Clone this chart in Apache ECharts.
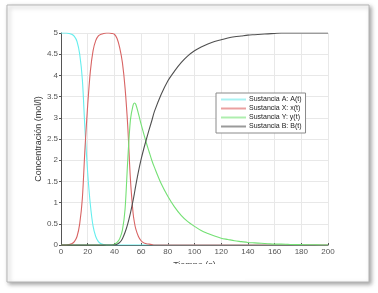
<!DOCTYPE html>
<html>
<head>
<meta charset="utf-8">
<style>html,body{margin:0;padding:0;background:#fff;}#c{width:378px;height:293px;}</style>
<script src="https://cdn.jsdelivr.net/npm/echarts@6/dist/echarts.min.js"></script>
</head>
<body>
<div id="c"></div>
<script>
var time = [0,2,4,6,8,10,12,14,16,18,20,22,24,26,28,30,32,34,36,38,40,42,44,46,48,50,52,54,55,56,58,60,62,64,66,68,70,75,80,85,90,95,100,105,110,115,120,125,130,135,140,145,150,155,160,165,170,175,180,185,190,195,200];
var sustA = [5,5,5,4.99,4.97,4.92,4.8,4.5,3.9,2.7,1.7,0.95,0.45,0.2,0.08,0.03,0.01,0,0,0,0,0,0,0,0,0,0,0,0,0,0,0,0,0,0,0,0,0,0,0,0,0,0,0,0,0,0,0,0,0,0,0,0,0,0,0,0,0,0,0,0,0,0];
var sustX = [0,0,0,0.01,0.03,0.08,0.2,0.5,1.1,2.3,3.3,4.1,4.58,4.82,4.93,4.97,4.99,5,5,4.99,4.97,4.87,4.65,4.3,3.7,2.8,1.55,0.75,0.53,0.38,0.2,0.1,0.05,0.03,0.02,0.01,0,0,0,0,0,0,0,0,0,0,0,0,0,0,0,0,0,0,0,0,0,0,0,0,0,0,0];
var sustY = [0,0,0,0,0,0,0,0,0,0,0,0,0,0,0,0,0,0,0,0,0.02,0.06,0.15,0.35,0.85,2.0,2.95,3.3,3.35,3.32,3.1,2.85,2.62,2.4,2.2,2.0,1.83,1.45,1.15,0.9,0.7,0.55,0.44,0.34,0.27,0.21,0.16,0.13,0.1,0.08,0.06,0.05,0.04,0.03,0.02,0.02,0.015,0.01,0.01,0.005,0.005,0,0];
var sustB = [0,0,0,0,0,0,0,0,0,0,0,0,0,0,0,0,0,0,0,0,0,0.02,0.06,0.15,0.3,0.5,0.75,1.05,1.22,1.4,1.73,2.02,2.27,2.5,2.72,2.93,3.15,3.55,3.87,4.1,4.3,4.46,4.58,4.67,4.74,4.8,4.84,4.88,4.91,4.93,4.95,4.96,4.97,4.98,4.99,5,5,5,5,5,5,5,5];
var seriesNames = ['Sustancia A: A(t)','Sustancia X: x(t)','Sustancia Y: y(t)','Sustancia B: B(t)'];
var seriesColors = ['#66eeee','#d86464','#74e074','#505050'];
var legendColors = ['#a8f2f2','#eaa0a0','#aeeeae','#9a9a9a'];

function pairs(v){ return time.map(function(t,i){ return [t, v[i]]; }); }
var allVals = [sustA, sustX, sustY, sustB];

var chart = echarts.init(document.getElementById('c'), null, {renderer:'canvas'});
var font = 'Liberation Sans, Arial, sans-serif';
chart.setOption({
  animation: false,
  backgroundColor: '#fff',
  textStyle: {fontFamily: font},
  graphic: [
    {type:'rect', z:-10, shape:{x:7,y:5,width:362,height:277},
     style:{fill:'#fff', stroke:'#b5b5b5', lineWidth:1, shadowBlur:4, shadowOffsetX:2, shadowOffsetY:2, shadowColor:'rgba(0,0,0,0.35)'}},
    {type:'rect', z:100, shape:{x:150,y:264,width:95,height:16}, style:{fill:'#fff'}}
  ],
  grid: {left:61, right:50, top:33, bottom:48, containLabel:false},
  legend: {
    data: seriesNames.map(function(n,i){ return {name:n, icon:'rect', itemStyle:{color:legendColors[i]}}; }),
    orient:'vertical', left:216, top:93,
    backgroundColor:'#fff', borderColor:'#8a8a8a', borderWidth:1,
    padding:[3,4,3,5], itemWidth:25, itemHeight:2, itemGap:2,
    textStyle:{fontSize:7, lineHeight:7, color:'#222', fontFamily:font, padding:[0,0,0,-2]}
  },
  xAxis: {
    type:'value', min:0, max:200, interval:20,
    name:'Tiempo (s)', nameLocation:'middle', nameGap:16, nameMoveOverlap:false,
    nameTextStyle:{fontSize:9, color:'#444', verticalAlign:'top'},
    axisLine:{show:true, lineStyle:{color:'#555', width:1}},
    axisTick:{show:true, inside:true, length:2, lineStyle:{color:'#555'}},
    axisLabel:{fontSize:8, color:'#555', margin:3},
    splitLine:{show:true, lineStyle:{color:'#e8e8e8', width:1}}
  },
  yAxis: {
    type:'value', min:0, max:5, interval:0.5,
    name:'Concentración (mol/l)', nameLocation:'middle', nameGap:18, nameMoveOverlap:false,
    nameTextStyle:{fontSize:9, color:'#333'},
    axisLine:{show:true, lineStyle:{color:'#555', width:1}},
    axisTick:{show:true, length:2, lineStyle:{color:'#555'}},
    axisLabel:{fontSize:8, color:'#555', margin:3},
    splitLine:{show:true, lineStyle:{color:'#e8e8e8', width:1}}
  },
  series: seriesNames.map(function(n,i){
    return {name:n, type:'line', data:pairs(allVals[i]), symbol:'none', smooth:0.3,
      color:seriesColors[i], lineStyle:{width:1.1, color:seriesColors[i]}};
  })
});
</script>
</body>
</html>
